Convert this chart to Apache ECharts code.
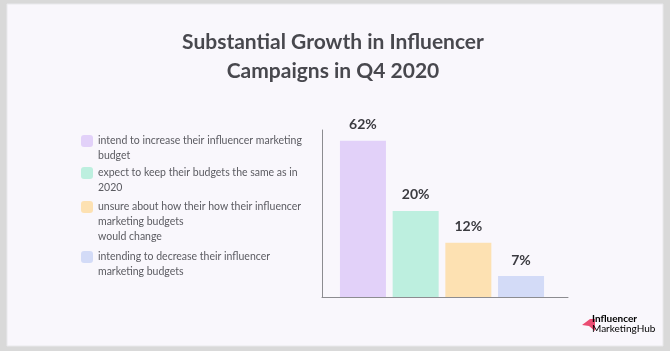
<!DOCTYPE html>
<html>
<head>
<meta charset="utf-8">
<style>
  html, body { margin: 0; padding: 0; background: #d9d9d9; }
  #chart { width: 670px; height: 351px; }
</style>
<script src="https://cdn.jsdelivr.net/npm/echarts@6/dist/echarts.min.js"></script>
</head>
<body>
<div id="chart"></div>
<script>
const categories = [
  'intend to increase their influencer marketing\nbudget',
  'expect to keep their budgets the same as in\n2020',
  'unsure about how their how their influencer\nmarketing budgets\nwould change',
  'intending to decrease their influencer\nmarketing budgets'
]
const values = [62, 20, 12, 7]

const colors = ['#e2d1f9', '#bdefdf', '#fde1b2', '#d3dbf7']
// y of each legend icon centre (the icon sits on the first text line)
const legendIconY = [141, 173, 207, 257]
const lineH = 15

const chart = echarts.init(document.getElementById('chart'))

// legend centres the icon on the text block, so pad the top with blank
// lines to bring the icon level with the first line
const legends = categories.map((name, i) => {
  const lines = name.split('\n').length
  return {
    orient: 'vertical',
    left: 81,
    top: legendIconY[i] - (lines - 1) * lineH - lineH / 2,
    padding: 0,
    itemWidth: 12,
    itemHeight: 12,
    icon: 'roundRect',
    selectedMode: false,
    data: [name],
    formatter: (n) => '\n'.repeat(lines - 1) + n,
    textStyle: {
      fontFamily: 'Lato',
      fontSize: 10.5,
      color: '#5b5b61',
      lineHeight: lineH,
    },
  }
})

// the source bars are not drawn to a linear scale; a log axis comes closest
const series = categories.map((name, i) => ({
  name,
  type: 'bar',
  xAxisIndex: 0,
  yAxisIndex: 0,
  barWidth: 46,
  barGap: '-100%',
  data: values.map((v, j) => (j === i ? v : '-')),
  itemStyle: { color: colors[i] },
  label: {
    show: true,
    position: 'top',
    distance: 9,
    formatter: '{c}%',
    fontFamily: 'Lato',
    fontWeight: 'bold',
    fontSize: 14,
    color: '#3b3b40',
  },
}))

const option = {
  backgroundColor: '#d9d9d9',
  animation: false,
  tooltip: { show: false },
  title: {
    text: 'Substantial Growth in Influencer\nCampaigns in Q4 2020',
    left: 333,
    textAlign: 'center',
    top: 28,
    padding: 0,
    textStyle: {
      fontFamily: 'Lato',
      fontSize: 21,
      fontWeight: 'bold',
      lineHeight: 29,
      color: '#48484e',
    },
  },
  legend: legends,
  grid: [
    { left: 336.6, right: 122.6, top: 130, bottom: 54 },
    { left: 322, right: 102, top: 130, bottom: 54 },
  ],
  xAxis: [
    { type: 'category', gridIndex: 0, data: categories, show: false },
    {
      type: 'value',
      gridIndex: 1,
      axisLine: { show: true, lineStyle: { color: '#8c8c90', width: 1 } },
      axisTick: { show: false },
      axisLabel: { show: false },
      splitLine: { show: false },
    },
  ],
  yAxis: [
    { type: 'log', gridIndex: 0, min: 5, max: 73.6, show: false },
    {
      type: 'value',
      gridIndex: 1,
      axisLine: { show: true, lineStyle: { color: '#8c8c90', width: 1 } },
      axisTick: { show: false },
      axisLabel: { show: false },
      splitLine: { show: false },
    },
  ],
  series,
  graphic: [
    {
      type: 'rect',
      z: -10,
      silent: true,
      shape: { x: 7, y: 4, width: 656, height: 342 },
      style: { fill: '#f9f7fc', stroke: '#e9e9ec', lineWidth: 1 },
    },
    {
      type: 'polygon',
      silent: true,
      shape: { points: [[582, 325], [590, 319], [595, 319], [595, 331], [589, 326]] },
      style: { fill: '#ea4c72' },
    },
    {
      type: 'text',
      silent: true,
      left: 592,
      top: 314,
      style: {
        text: '{a|Influencer}\n{b|Marketing}{c|Hub}',
        rich: {
          a: { fontFamily: 'Lato', fontSize: 10, fontWeight: 'bold', color: '#2f2f35', lineHeight: 10 },
          b: { fontFamily: 'Lato', fontSize: 10, color: '#555559', lineHeight: 10 },
          c: { fontFamily: 'Lato', fontSize: 10, color: '#8a8a90', lineHeight: 10 },
        },
      },
    },
  ],
}

chart.setOption(option)
</script>
</body>
</html>
